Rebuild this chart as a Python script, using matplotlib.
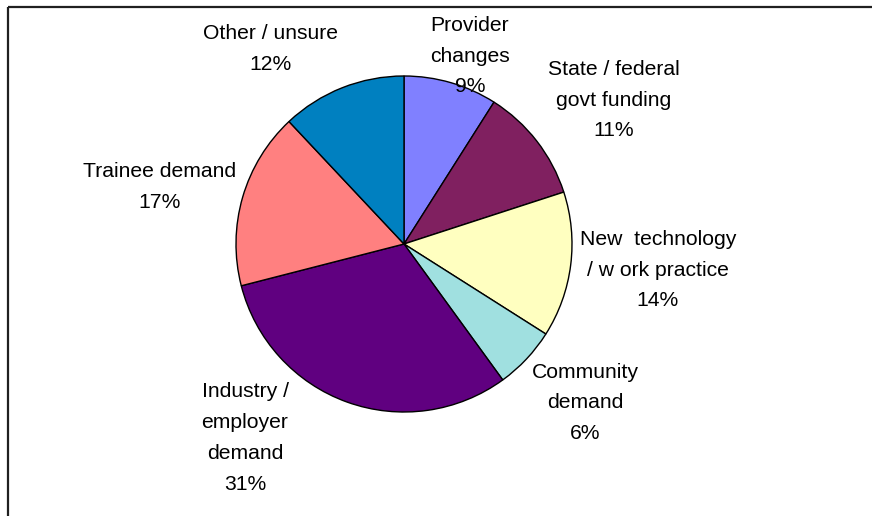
import matplotlib.pyplot as plt

plt.rcParams['font.family'] = ['Liberation Sans', 'DejaVu Sans']

labels = ["Provider\nchanges", "State / federal\ngovt funding", "New  technology\n/ w ork practice",
          "Community\ndemand", "Industry /\nemployer\ndemand", "Trainee demand", "Other / unsure"]
shares = [9, 11, 14, 6, 31, 17, 12]
colors = ["#8080FF", "#802060", "#FFFFC0", "#A0E0E0", "#600080", "#FF8080", "#0080C0"]

# label centres in pixels (x, y from top)
label_pos = [(470, 56), (614, 100), (658, 270), (585, 403), (245, 438), (160, 187), (270, 49)]

W, H = 872, 516
fig = plt.figure(figsize=(W / 100, H / 100), dpi=100)
ax = fig.add_axes([0, 0, 1, 1])

cx, cy, r = 404, 244, 168
ax.pie(shares, colors=colors, startangle=90, counterclock=False,
       center=(cx, H - cy), radius=r,
       wedgeprops=dict(edgecolor="black", linewidth=1.0))

for lab, v, (x, y) in zip(labels, shares, label_pos):
    ax.text(x, H - y, "%s\n%d%%" % (lab, v), ha="center", va="center",
            multialignment="center", fontsize=15.2, linespacing=1.78)

# chart frame (top and left edges)
ax.plot([8, W], [H - 7, H - 7], color="#202020", lw=1.6, solid_capstyle="butt")
ax.plot([8, 8], [H - 7, 0], color="#202020", lw=1.6, solid_capstyle="butt")

ax.set_xlim(0, W)
ax.set_ylim(0, H)
ax.set_aspect("equal")
ax.axis("off")

fig.savefig("out.png", dpi=100)
